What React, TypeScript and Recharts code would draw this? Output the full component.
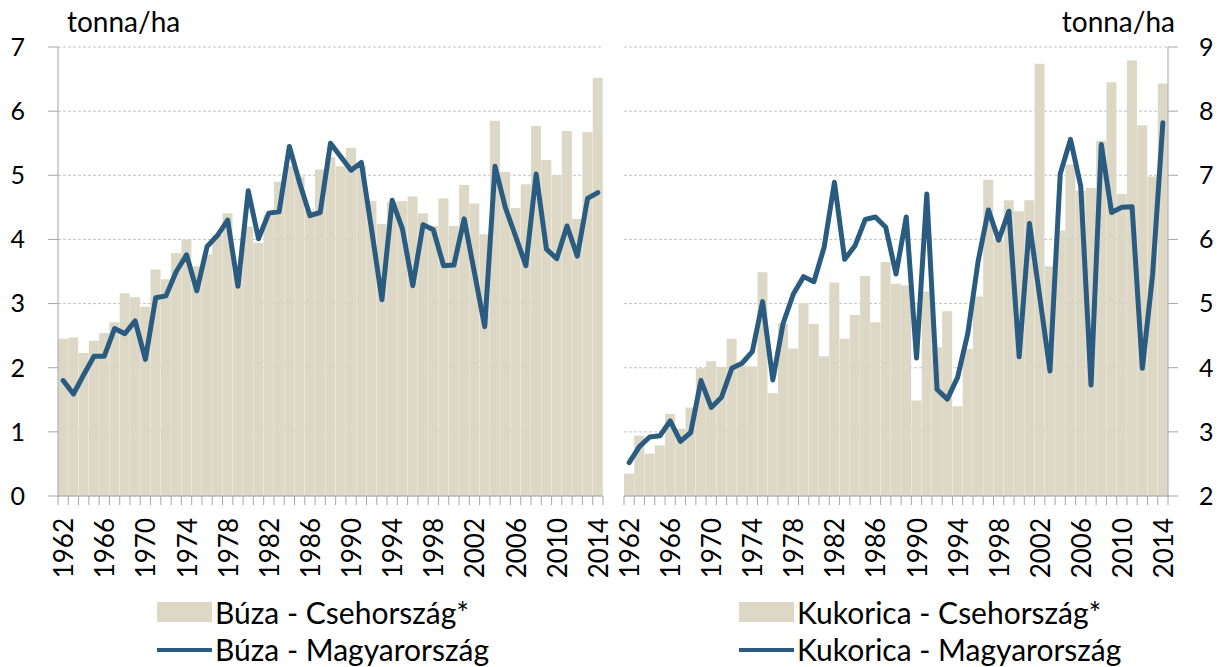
import React from 'react';
import { ComposedChart, Bar, Line, XAxis, YAxis, CartesianGrid } from 'recharts';

const years = [
  1962, 1963, 1964, 1965, 1966, 1967, 1968, 1969, 1970, 1971,
  1972, 1973, 1974, 1975, 1976, 1977, 1978, 1979, 1980, 1981,
  1982, 1983, 1984, 1985, 1986, 1987, 1988, 1989, 1990, 1991,
  1992, 1993, 1994, 1995, 1996, 1997, 1998, 1999, 2000, 2001,
  2002, 2003, 2004, 2005, 2006, 2007, 2008, 2009, 2010, 2011,
  2012, 2013, 2014,
];

const wheatCZ = [
  2.45, 2.47, 2.23, 2.42, 2.54, 2.71, 3.16, 3.10, 2.95, 3.53,
  3.38, 3.79, 4.00, 3.58, 3.77, 4.07, 4.41, 3.55, 4.20, 3.95,
  4.38, 4.90, 5.15, 4.98, 4.45, 5.09, 5.28, 5.14, 5.43, 5.15,
  4.60, 4.24, 4.58, 4.60, 4.67, 4.41, 4.21, 4.64, 4.21, 4.85,
  4.56, 4.08, 5.85, 5.05, 4.49, 4.86, 5.77, 5.24, 5.00, 5.69,
  4.32, 5.67, 6.52,
];

const wheatHU = [
  1.80, 1.59, 1.89, 2.18, 2.18, 2.61, 2.53, 2.73, 2.13, 3.09,
  3.12, 3.50, 3.76, 3.20, 3.89, 4.06, 4.30, 3.27, 4.76, 4.01,
  4.41, 4.43, 5.45, 4.88, 4.37, 4.42, 5.50, 5.29, 5.08, 5.20,
  4.15, 3.06, 4.61, 4.16, 3.28, 4.23, 4.15, 3.59, 3.60, 4.32,
  3.48, 2.64, 5.14, 4.50, 4.05, 3.59, 5.02, 3.85, 3.70, 4.21,
  3.74, 4.64, 4.73,
];

const maizeCZ = [
  2.35, 2.94, 2.66, 2.79, 3.28, 3.05, 3.38, 3.99, 4.10, 4.01,
  4.45, 4.03, 4.02, 5.49, 3.60, 4.69, 4.30, 5.01, 4.68, 4.18,
  5.33, 4.45, 4.82, 5.43, 4.71, 5.65, 5.31, 5.28, 3.49, 5.19,
  4.32, 4.88, 3.40, 4.29, 5.11, 6.93, 6.00, 6.61, 6.44, 6.61,
  8.74, 5.58, 6.14, 7.17, 6.76, 6.80, 7.54, 8.45, 6.71, 8.79,
  7.78, 6.98, 8.43,
];

const maizeHU = [
  2.52, 2.77, 2.92, 2.94, 3.17, 2.85, 2.99, 3.80, 3.38, 3.54,
  3.99, 4.07, 4.25, 5.03, 3.81, 4.69, 5.15, 5.42, 5.34, 5.88,
  6.89, 5.69, 5.90, 6.31, 6.35, 6.19, 5.46, 6.35, 4.15, 6.71,
  3.66, 3.51, 3.85, 4.54, 5.66, 6.46, 5.99, 6.44, 4.17, 6.25,
  5.11, 3.95, 7.02, 7.56, 6.83, 3.73, 7.48, 6.42, 6.50, 6.51,
  3.99, 5.45, 7.82,
];

const wheatTicks = [0, 1, 2, 3, 4, 5, 6, 7];
const maizeTicks = [2, 3, 4, 5, 6, 7, 8, 9];
const unitLabel = 'tonna/ha';
const legendWheat = ['Búza - Csehország*', 'Búza - Magyarország'];
const legendMaize = ['Kukorica - Csehország*', 'Kukorica - Magyarország'];

const wheatData = years.map((y, i) => ({ year: y, cz: wheatCZ[i], hu: wheatHU[i] }));
const maizeData = years.map((y, i) => ({ year: y, cz: maizeCZ[i], hu: maizeHU[i] }));

const FONT = 'Lato, "Open Sans", sans-serif';
const BAR = '#DDD8C6';
const LINE = '#2A5B80';
const AXIS = '#A6A6A6';
const GRID = '#C4C4C4';

const makeXTick = (band: number, lastIndex: number) => (props: any) => {
  const { x, y, payload, index } = props;
  const yr = Number(payload.value);
  const half = band / 2;
  return (
    <g>
      <line x1={x - half} x2={x - half} y1={y} y2={y + 9} stroke={AXIS} strokeWidth={1} />
      {index === lastIndex && (
        <line x1={x + half} x2={x + half} y1={y} y2={y + 9} stroke={AXIS} strokeWidth={1} />
      )}
      {(yr - 1962) % 4 === 0 && (
        <text
          transform={`translate(${x},${y}) rotate(-90)`}
          x={-22}
          y={0}
          textAnchor="end"
          dominantBaseline="central"
          fontFamily={FONT}
          fontSize={26}
          fill="#000"
        >
          {yr}
        </text>
      )}
    </g>
  );
};

const LegendBlock = ({ left, labels }: { left: number; labels: string[] }) => (
  <>
    <div style={{ position: 'absolute', left, top: 602, width: 55, height: 20, background: BAR }} />
    <div style={{ position: 'absolute', left: left + 58, top: 595, fontFamily: FONT, fontSize: 30, lineHeight: '34px', color: '#000', whiteSpace: 'nowrap' }}>
      {labels[0]}
    </div>
    <div style={{ position: 'absolute', left, top: 648, width: 55, height: 4, background: LINE }} />
    <div style={{ position: 'absolute', left: left + 58, top: 633, fontFamily: FONT, fontSize: 30, lineHeight: '33px', color: '#000', whiteSpace: 'nowrap' }}>
      {labels[1]}
    </div>
  </>
);

export default function App() {
  const band = 545 / 53;
  const band2 = 544 / 53;
  return (
    <div style={{ position: 'absolute', left: 0, top: 0, width: 1219, height: 667, background: '#fff', overflow: 'hidden' }}>
      <div style={{ position: 'absolute', left: 0, top: 0 }}>
        <ComposedChart
          width={620}
          height={667}
          data={wheatData}
          margin={{ top: 47, right: 17, left: 0, bottom: 0 }}
          barCategoryGap={0}
          barGap={0}
        >
          <CartesianGrid vertical={false} stroke={GRID} strokeDasharray="3 2" />
          <XAxis
            dataKey="year"
            interval={0}
            height={171}
            tickSize={0}
            tickMargin={0}
            tickLine={false}
            axisLine={{ stroke: AXIS }}
            tick={makeXTick(band, 52)}
          />
          <YAxis
            domain={[0, 7]}
            ticks={wheatTicks}
            width={58}
            tickSize={10}
            tickMargin={23}
            axisLine={{ stroke: AXIS }}
            tickLine={{ stroke: AXIS }}
            tick={{ fontFamily: FONT, fontSize: 25, fill: '#000' }}
            allowDataOverflow
          />
          <Bar dataKey="cz" fill={BAR} isAnimationActive={false} />
          <Line
            dataKey="hu"
            type="linear"
            stroke={LINE}
            strokeWidth={5}
            strokeLinejoin="round"
            strokeLinecap="round"
            dot={false}
            isAnimationActive={false}
          />
        </ComposedChart>
      </div>
      <div style={{ position: 'absolute', left: 610, top: 0 }}>
        <ComposedChart
          width={609}
          height={667}
          data={maizeData}
          margin={{ top: 47, right: 0, left: 14, bottom: 0 }}
          barCategoryGap={0}
          barGap={0}
        >
          <CartesianGrid vertical={false} stroke={GRID} strokeDasharray="3 2" />
          <XAxis
            dataKey="year"
            interval={0}
            height={171}
            tickSize={0}
            tickMargin={0}
            tickLine={false}
            axisLine={{ stroke: AXIS }}
            tick={makeXTick(band2, 52)}
          />
          <YAxis
            orientation="right"
            domain={[2, 9]}
            ticks={maizeTicks}
            width={51}
            tickSize={10}
            tickMargin={21}
            axisLine={{ stroke: AXIS }}
            tickLine={{ stroke: AXIS }}
            tick={{ fontFamily: FONT, fontSize: 25, fill: '#000' }}
            allowDataOverflow
          />
          <Bar dataKey="cz" fill={BAR} isAnimationActive={false} />
          <Line
            dataKey="hu"
            type="linear"
            stroke={LINE}
            strokeWidth={5}
            strokeLinejoin="round"
            strokeLinecap="round"
            dot={false}
            isAnimationActive={false}
          />
        </ComposedChart>
      </div>
      <div style={{ position: 'absolute', left: 67, top: 4, fontFamily: FONT, fontSize: 28, lineHeight: '34px', color: '#000' }}>
        {unitLabel}
      </div>
      <div style={{ position: 'absolute', right: 44, top: 4, fontFamily: FONT, fontSize: 28, lineHeight: '34px', color: '#000' }}>
        {unitLabel}
      </div>
      <LegendBlock left={157} labels={legendWheat} />
      <LegendBlock left={739} labels={legendMaize} />
    </div>
  );
}
